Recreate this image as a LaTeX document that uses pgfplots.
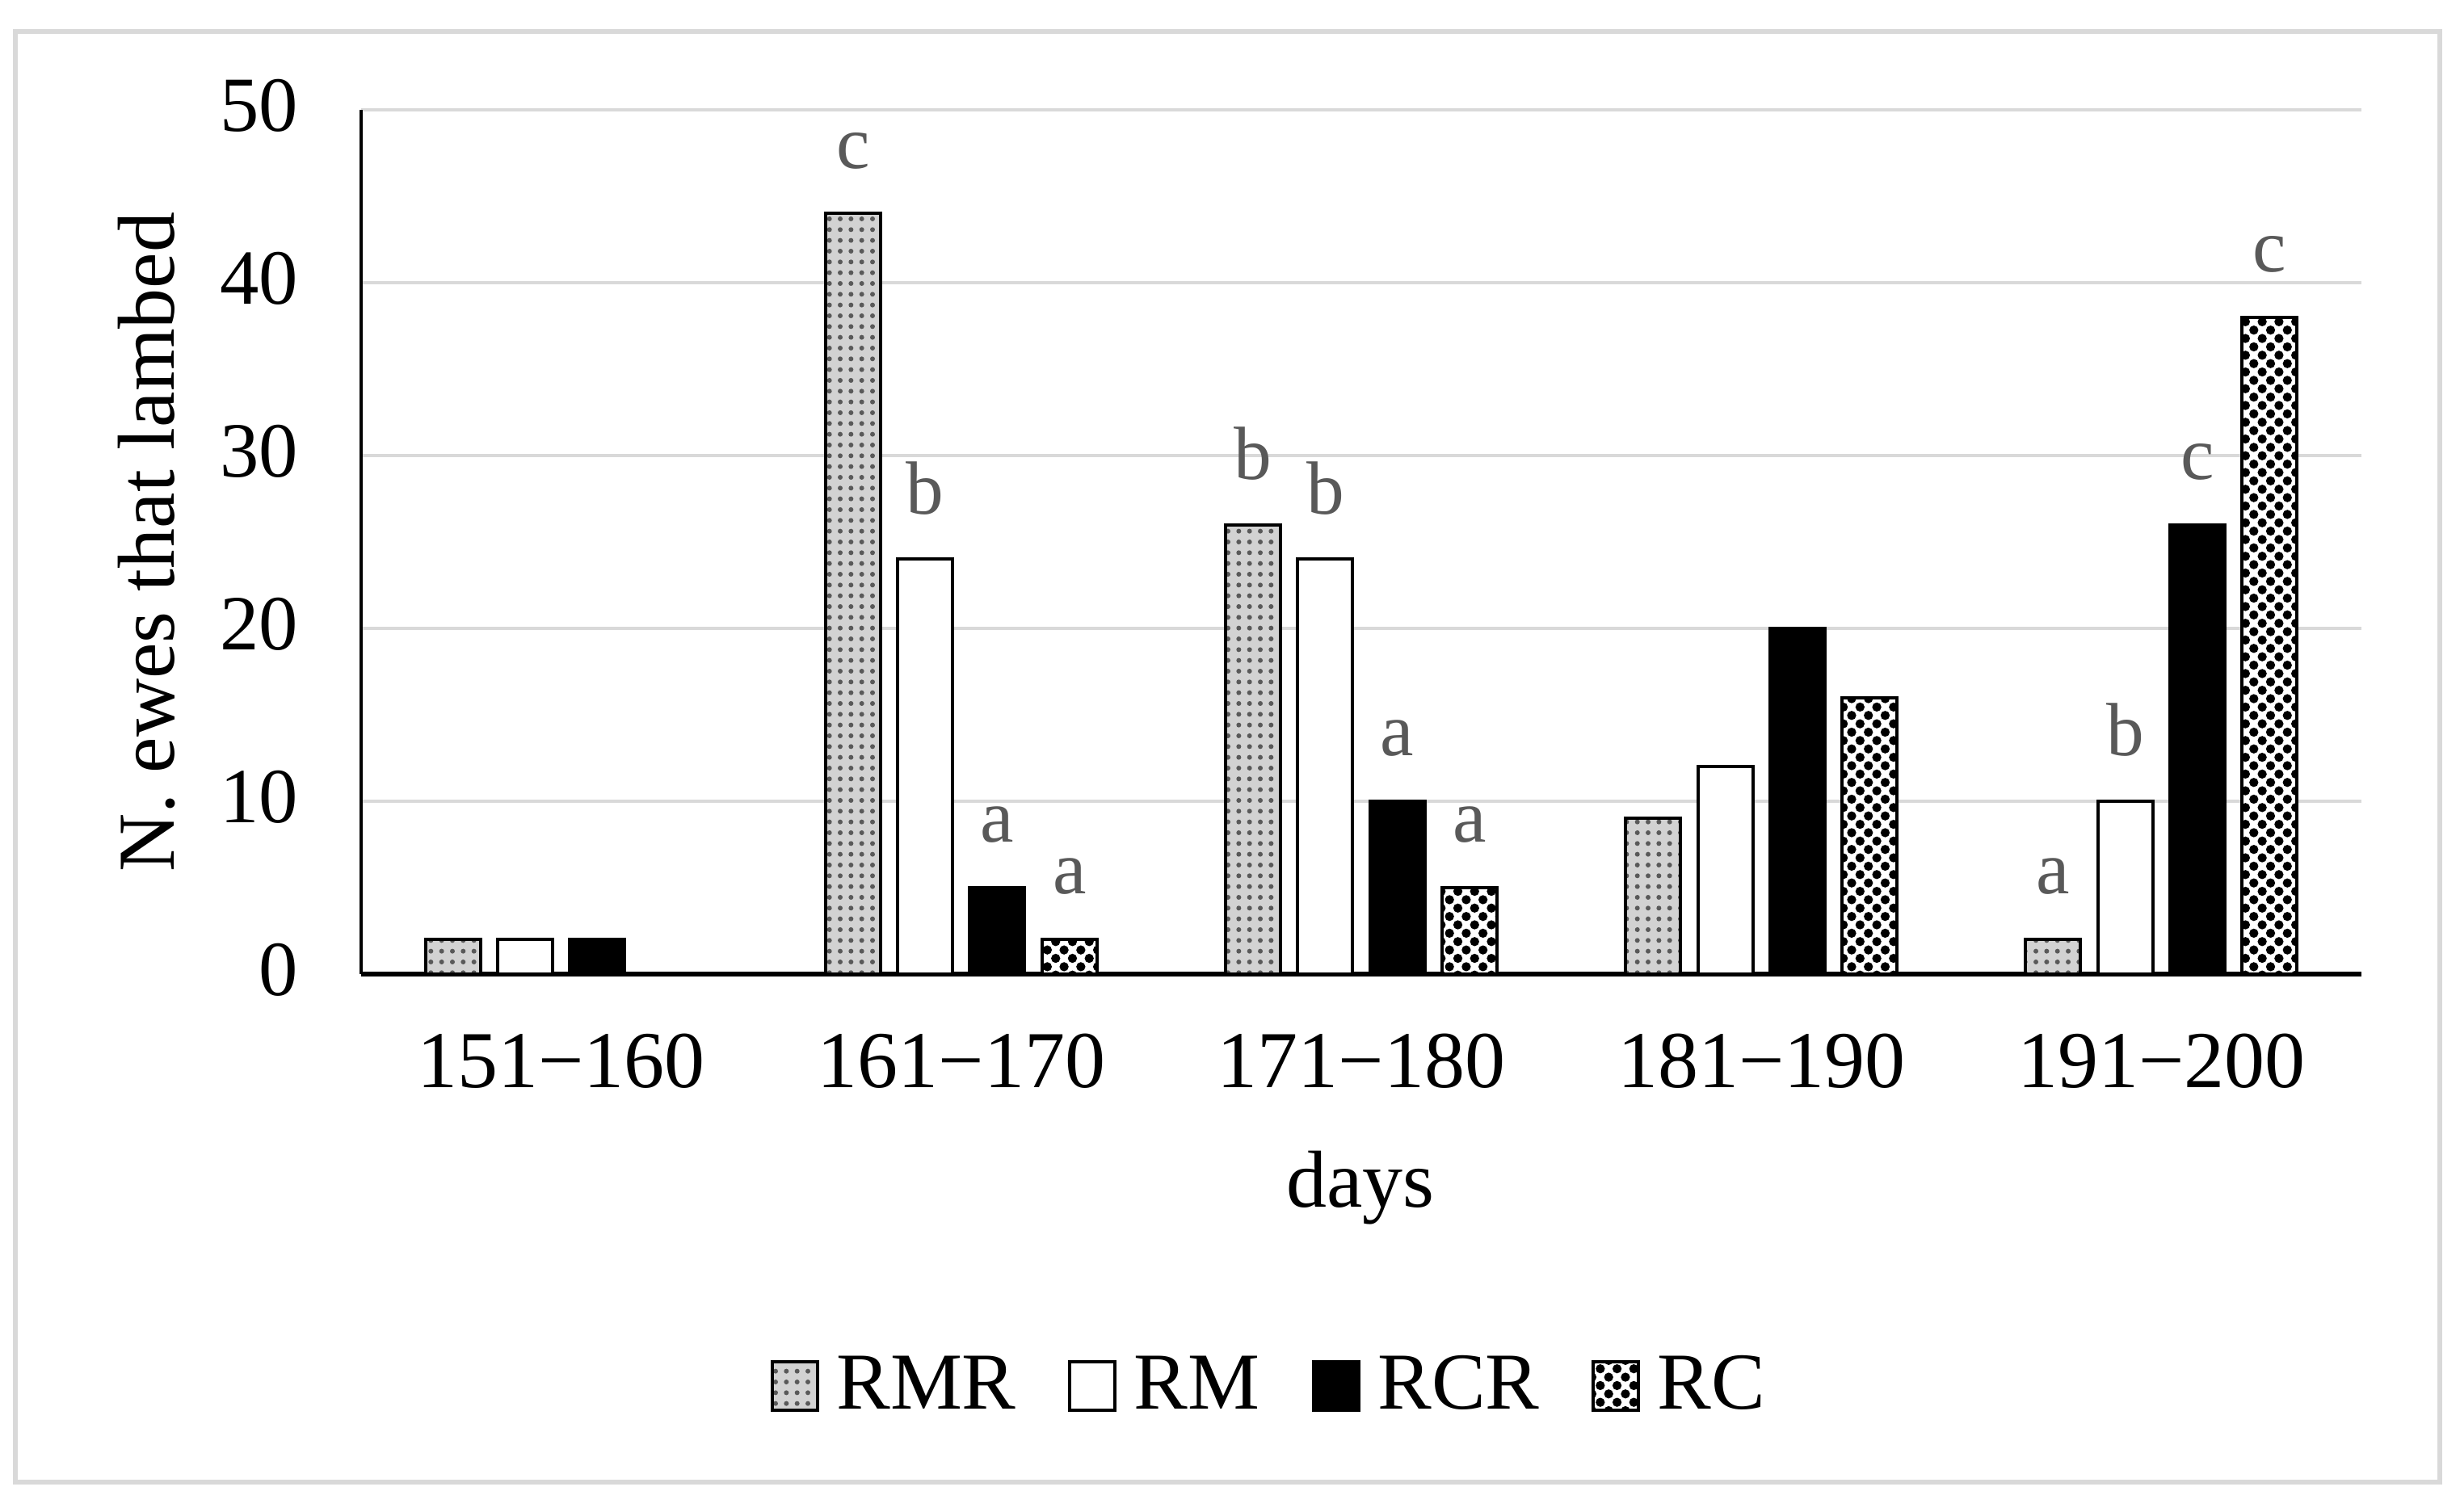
\documentclass[border=0pt]{standalone}
\usepackage{pgfplots}
\pgfplotsset{compat=1.18}
\usepackage{fontspec}
\setmainfont{Liberation Serif}
\usetikzlibrary{patterns,patterns.meta}
\begin{document}
\begin{tikzpicture}
\useasboundingbox (0,0) rectangle (456.75pt,280.65pt);
\fill[white] (0,0) rectangle (456.75pt,280.65pt);
\draw[gray!30, line width=0.8pt] (2.85pt,5.4pt) rectangle (453pt,274.8pt);
\begin{axis}[
  at={(67.05pt,99.75pt)}, anchor=south west,
  scale only axis, width=371.4pt, height=160.5pt,
  xmin=-0.5, xmax=4.5, ymin=0, ymax=50,
  clip=false,
  axis x line*=bottom, axis y line*=left,
  x axis line style={line width=0.9pt, -},
  y axis line style={line width=0.6pt, -},
  major tick length=0pt, tick style={draw=none},
  ytick={0,10,20,30,40,50},
  ymajorgrids, grid style={gray!30, line width=0.6pt},
  /pgf/number format/assume math mode=true,
  yticklabel style={font=\fontsize{14.5}{17}\selectfont, yshift=0.8pt},
  yticklabel shift=8.2pt,
  xtick={0,1,2,3,4},
  xticklabels={151−160,161−170,171−180,181−190,191−200},
  xticklabel style={font=\fontsize{15}{18}\selectfont},
  xticklabel shift=7.6pt,
  xlabel={days},
  every axis x label/.style={at={(0.4996,-0.247)}, anchor=center, font=\fontsize{15}{18}\selectfont},
  ylabel={N. ewes that lambed},
  every axis y label/.style={at={(-0.1074,0.5)}, rotate=90, anchor=center, font=\fontsize{15}{18}\selectfont},
  ybar=3.2pt, bar width=10.2pt,
  nodes near coords, point meta=explicit symbolic,
  every node near coord/.append style={font=\fontsize{14}{16}\selectfont, text=black!65, inner sep=0pt, yshift=8pt},
  legend columns=4,
  legend style={at={(0.454,-0.477)}, anchor=center, draw=none, fill=none,
    font=\fontsize{15}{18}\selectfont,
    nodes={inner sep=0.5pt},
    /tikz/every odd column/.append style={column sep=2.7pt},
    /tikz/every even column/.append style={column sep=9.2pt}},
  legend image code/.code={\draw[#1, line width=0.6pt] (0pt,-4.5pt) rectangle (8.4pt,4.5pt);},
]
\addplot[draw=black, line width=0.6pt, preaction={fill=gray!35}, pattern={Dots[distance=2pt,radius=0.45pt]}, pattern color=black!65]
  coordinates {(0,2)[] (1,44)[c] (2,26)[b] (3,9)[] (4,2)[a]};
\addplot[draw=black, line width=0.6pt, fill=white]
  coordinates {(0,2)[] (1,24)[b] (2,24)[b] (3,12)[] (4,10)[b]};
\addplot[draw=black, line width=0.6pt, fill=black]
  coordinates {(0,2)[] (1,5)[a] (2,10)[a] (3,20)[] (4,26)[c]};
\addplot[draw=black, line width=0.6pt, preaction={fill=white}, pattern={Dots[distance=2.2pt,radius=0.85pt,angle=45]}, pattern color=black]
  coordinates {(1,2)[a] (2,5)[a] (3,16)[] (4,38)[c]};
\legend{RMR,RM,RCR,RC}
\end{axis}
\end{tikzpicture}
\end{document}
